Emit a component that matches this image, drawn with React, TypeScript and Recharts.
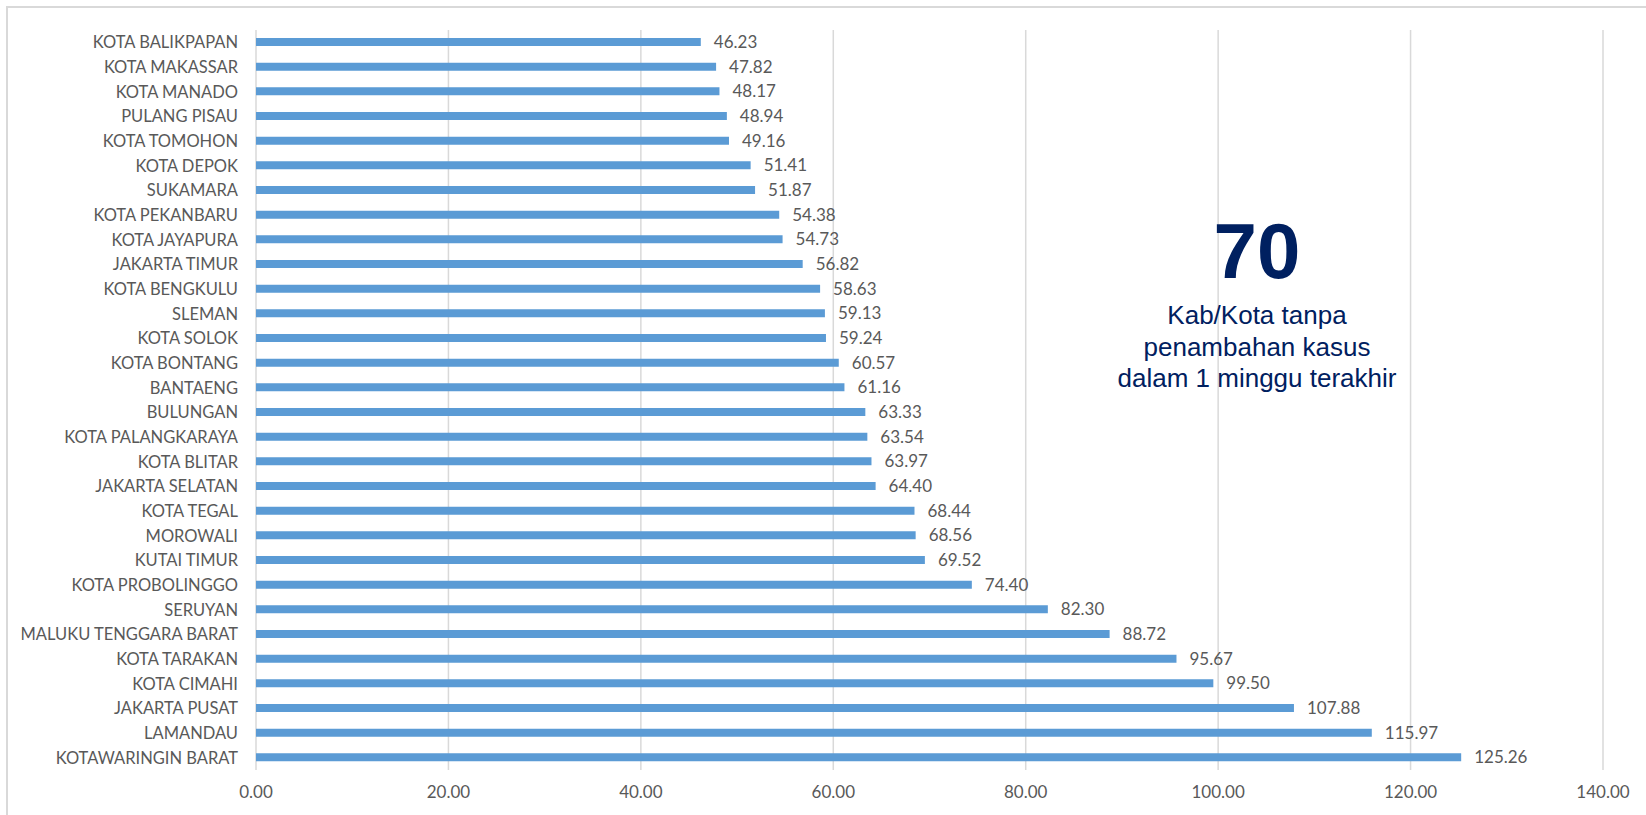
import * as React from 'react';
import { BarChart, Bar, XAxis, YAxis, CartesianGrid, LabelList } from 'recharts';

const regions = [
    'KOTA BALIKPAPAN', 'KOTA MAKASSAR', 'KOTA MANADO', 'PULANG PISAU', 'KOTA TOMOHON',
    'KOTA DEPOK', 'SUKAMARA', 'KOTA PEKANBARU', 'KOTA JAYAPURA', 'JAKARTA TIMUR',
    'KOTA BENGKULU', 'SLEMAN', 'KOTA SOLOK', 'KOTA BONTANG', 'BANTAENG',
    'BULUNGAN', 'KOTA PALANGKARAYA', 'KOTA BLITAR', 'JAKARTA SELATAN', 'KOTA TEGAL',
    'MOROWALI', 'KUTAI TIMUR', 'KOTA PROBOLINGGO', 'SERUYAN', 'MALUKU TENGGARA BARAT',
    'KOTA TARAKAN', 'KOTA CIMAHI', 'JAKARTA PUSAT', 'LAMANDAU', 'KOTAWARINGIN BARAT',
];

const values = [
    46.23, 47.82, 48.17, 48.94, 49.16,
    51.41, 51.87, 54.38, 54.73, 56.82,
    58.63, 59.13, 59.24, 60.57, 61.16,
    63.33, 63.54, 63.97, 64.40, 68.44,
    68.56, 69.52, 74.40, 82.30, 88.72,
    95.67, 99.50, 107.88, 115.97, 125.26,
];

const xTicks = [0, 20, 40, 60, 80, 100, 120, 140];

const bigNumber = '70';
const noteLines = ['Kab/Kota tanpa', 'penambahan kasus', 'dalam 1 minggu terakhir'];

const data = regions.map((name, i) => ({ name, value: values[i] }));

const labelFont = 'Lato, "Open Sans", sans-serif';
const grey = '#595959';
const navy = '#002060';

export default function App() {
    return (
        <div style={{ position: 'fixed', left: 0, top: 0, width: 1646, height: 815, overflow: 'hidden', background: '#fff' }}>
            <div style={{ position: 'absolute', left: 6, top: 6, width: 1700, height: 900, border: '2px solid #d9d9d9' }} />
            <BarChart
                width={1646}
                height={815}
                data={data}
                layout='vertical'
                margin={{ top: 30, right: 43, bottom: 5, left: 6 }}
                barSize={8}
                style={{ position: 'absolute', left: 0, top: 0 }}
            >
                <CartesianGrid horizontal={false} stroke='#d9d9d9' strokeWidth={1.5} />
                <XAxis
                    type='number'
                    domain={[0, 140]}
                    ticks={xTicks}
                    interval={0}
                    height={40}
                    axisLine={false}
                    tickLine={false}
                    tickSize={0}
                    tickMargin={16}
                    tickFormatter={(v) => v.toFixed(2)}
                    tick={{ fill: grey, fontSize: 17, fontFamily: labelFont }}
                />
                <YAxis
                    type='category'
                    dataKey='name'
                    width={250}
                    interval={0}
                    axisLine={false}
                    tickLine={false}
                    tickSize={0}
                    tickMargin={18}
                    tick={{ fill: grey, fontSize: 16.5, fontFamily: labelFont }}
                />
                <Bar dataKey='value' fill='#5b9bd5' isAnimationActive={false}>
                    <LabelList
                        dataKey='value'
                        position='right'
                        offset={13}
                        formatter={(v) => Number(v).toFixed(2)}
                        style={{ fill: grey, fontSize: 17, fontFamily: labelFont }}
                    />
                </Bar>
            </BarChart>
            <div style={{ position: 'absolute', left: 1057, top: 212, width: 400, textAlign: 'center', color: navy, fontFamily: '"Liberation Sans", Arial, sans-serif' }}>
                <div style={{ fontSize: 78, fontWeight: 'bold', lineHeight: '78px' }}>{bigNumber}</div>
            </div>
            <div style={{ position: 'absolute', left: 1057, top: 300, width: 400, textAlign: 'center', color: navy, fontFamily: '"Liberation Sans", Arial, sans-serif', fontSize: 26, lineHeight: '31.5px' }}>
                {noteLines.map((t) => <div key={t}>{t}</div>)}
            </div>
        </div>
    );
}
